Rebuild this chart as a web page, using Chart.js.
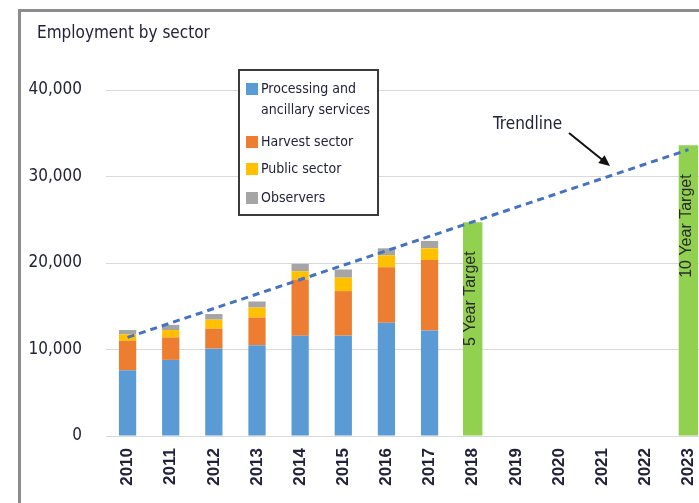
<!DOCTYPE html>
<html>
<head>
<meta charset="utf-8">
<script src="https://cdn.jsdelivr.net/npm/chart.js@4.4.0/dist/chart.umd.min.js"></script>
<style>
  html, body { margin: 0; padding: 0; background: #fff; overflow: hidden; width: 699px; height: 503px; }
  #frame { position: absolute; left: 18px; top: 9px; width: 1000px; height: 1000px; border: 3px solid #8c8c8c; }
  #chart { position: absolute; left: 0; top: 0; }
</style>
</head>
<body>
<div id="frame"></div>
<canvas id="chart" width="730" height="503"></canvas>
<script>
// Employment by sector, 2010-2023
const years = ['2010', '2011', '2012', '2013', '2014', '2015', '2016', '2017', '2018', '2019', '2020', '2021', '2022', '2023'];
const processing = [7600, 8800, 10100, 10500, 11600, 11600, 13100, 12200, null, null, null, null, null, null];
const harvest = [3400, 2600, 2300, 3200, 6500, 5150, 6400, 8150, null, null, null, null, null, null];
const publicSector = [750, 850, 1050, 1150, 950, 1550, 1400, 1350, null, null, null, null, null, null];
const observers = [500, 600, 650, 700, 850, 950, 800, 850, null, null, null, null, null, null];
const targets = [null, null, null, null, null, null, null, null, 24700, null, null, null, null, 33600];
const targetLabels = [null, null, null, null, null, null, null, null, '5 Year Target', null, null, null, null, '10 Year Target'];
const trend = [11400, null, null, null, null, null, null, null, null, null, null, null, null, 33100];
const yTicks = [0, 10000, 20000, 30000, 40000];

const condensed = "'DejaVu Sans Condensed', 'Liberation Sans Narrow', sans-serif";
const textColor = '#22223a';

const legendLines = [
  ['Processing and', 'ancillary services'],
  ['Harvest sector'],
  ['Public sector'],
  ['Observers']
];

const decor = {
  id: 'decor',
  afterDatasetsDraw(chart) {
    const ctx = chart.ctx;
    const meta = chart.getDatasetMeta(4);
    ctx.save();
    ctx.fillColor = textColor;
    ctx.font = "16px 'Liberation Sans', Arial, sans-serif";
    ctx.fillStyle = '#2a2a2a';
    meta.data.forEach((bar, i) => {
      if (!targetLabels[i]) return;
      ctx.save();
      ctx.translate(bar.x - 2, bar.y + 29);
      ctx.rotate(-Math.PI / 2);
      ctx.textAlign = 'right';
      ctx.textBaseline = 'middle';
      ctx.fillText(targetLabels[i], 0, 0);
      ctx.restore();
    });
    ctx.restore();
  },
  afterDraw(chart) {
    const ctx = chart.ctx;
    ctx.save();

    // title
    ctx.fillStyle = textColor;
    ctx.font = '17px ' + condensed;
    ctx.textAlign = 'left';
    ctx.textBaseline = 'middle';
    ctx.fillText('Employment by sector', 37, 34);

    // legend box
    ctx.fillStyle = '#fff';
    ctx.fillRect(239, 70, 139, 145);
    ctx.strokeStyle = '#3a3a3a';
    ctx.lineWidth = 2;
    ctx.strokeRect(239, 70, 139, 145);
    const rows = [89, 142, 169, 198];
    ctx.font = '14px ' + condensed;
    for (let i = 0; i < 4; i++) {
      ctx.fillStyle = chart.data.datasets[i].backgroundColor;
      ctx.fillRect(246, rows[i] - 6, 12, 12);
      ctx.fillStyle = textColor;
      legendLines[i].forEach((line, j) => {
        ctx.fillText(line, 261, rows[i] + j * 21);
      });
    }

    // trendline note + arrow
    ctx.font = '17px ' + condensed;
    ctx.fillStyle = textColor;
    ctx.fillText('Trendline', 493, 125);
    const x0 = 569, y0 = 133, x1 = 610, y1 = 166;
    const ang = Math.atan2(y1 - y0, x1 - x0);
    ctx.strokeStyle = '#111';
    ctx.lineWidth = 2;
    ctx.beginPath();
    ctx.moveTo(x0, y0);
    ctx.lineTo(x1 - 8 * Math.cos(ang), y1 - 8 * Math.sin(ang));
    ctx.stroke();
    ctx.fillStyle = '#111';
    ctx.beginPath();
    ctx.moveTo(x1, y1);
    ctx.lineTo(x1 - 11 * Math.cos(ang) + 5 * Math.sin(ang), y1 - 11 * Math.sin(ang) - 5 * Math.cos(ang));
    ctx.lineTo(x1 - 11 * Math.cos(ang) - 5 * Math.sin(ang), y1 - 11 * Math.sin(ang) + 5 * Math.cos(ang));
    ctx.closePath();
    ctx.fill();

    ctx.restore();
  }
};

new Chart(document.getElementById('chart'), {
  data: {
    labels: years,
    datasets: [
      { type: 'bar', label: 'Processing and ancillary services', data: processing, backgroundColor: '#5b9bd5', stack: 'emp', order: 1, barPercentage: 0.4, categoryPercentage: 1 },
      { type: 'bar', label: 'Harvest sector', data: harvest, backgroundColor: '#ed7d31', stack: 'emp', order: 1, barPercentage: 0.4, categoryPercentage: 1 },
      { type: 'bar', label: 'Public sector', data: publicSector, backgroundColor: '#ffc000', stack: 'emp', order: 1, barPercentage: 0.4, categoryPercentage: 1 },
      { type: 'bar', label: 'Observers', data: observers, backgroundColor: '#a5a5a5', stack: 'emp', order: 1, barPercentage: 0.4, categoryPercentage: 1 },
      { type: 'bar', label: 'Target', data: targets, backgroundColor: '#92d050', stack: 'emp', order: 1, barPercentage: 0.45, categoryPercentage: 1 },
      { type: 'line', label: 'Trendline', data: trend, borderColor: '#4472c4', borderWidth: 3, borderDash: [7, 5], pointRadius: 0, spanGaps: true, stack: 'trend', order: 0, fill: false }
    ]
  },
  options: {
    responsive: false,
    animation: false,
    layout: { padding: { top: 90, right: 20, left: 0, bottom: 0 } },
    plugins: {
      legend: { display: false },
      tooltip: { enabled: false }
    },
    scales: {
      x: {
        stacked: true,
        grid: { display: false, drawTicks: false },
        border: { display: false },
        ticks: {
          autoSkip: false,
          minRotation: 90,
          maxRotation: 90,
          padding: 12,
          color: textColor,
          font: { family: "'Liberation Sans', Arial, sans-serif", size: 17, weight: 'bold' }
        },
        afterFit(scale) { scale.height = 67; }
      },
      y: {
        stacked: true,
        min: 0,
        max: 40000,
        afterBuildTicks(scale) { scale.ticks = yTicks.map(v => ({ value: v })); },
        grid: { color: '#d9d9d9', lineWidth: 1, drawTicks: false },
        border: { display: false },
        ticks: {
          padding: 24,
          color: textColor,
          font: { family: condensed, size: 17 },
          callback: v => v.toLocaleString('en-US')
        },
        afterFit(scale) { scale.width = 106; }
      }
    }
  },
  plugins: [decor]
});
</script>
</body>
</html>
